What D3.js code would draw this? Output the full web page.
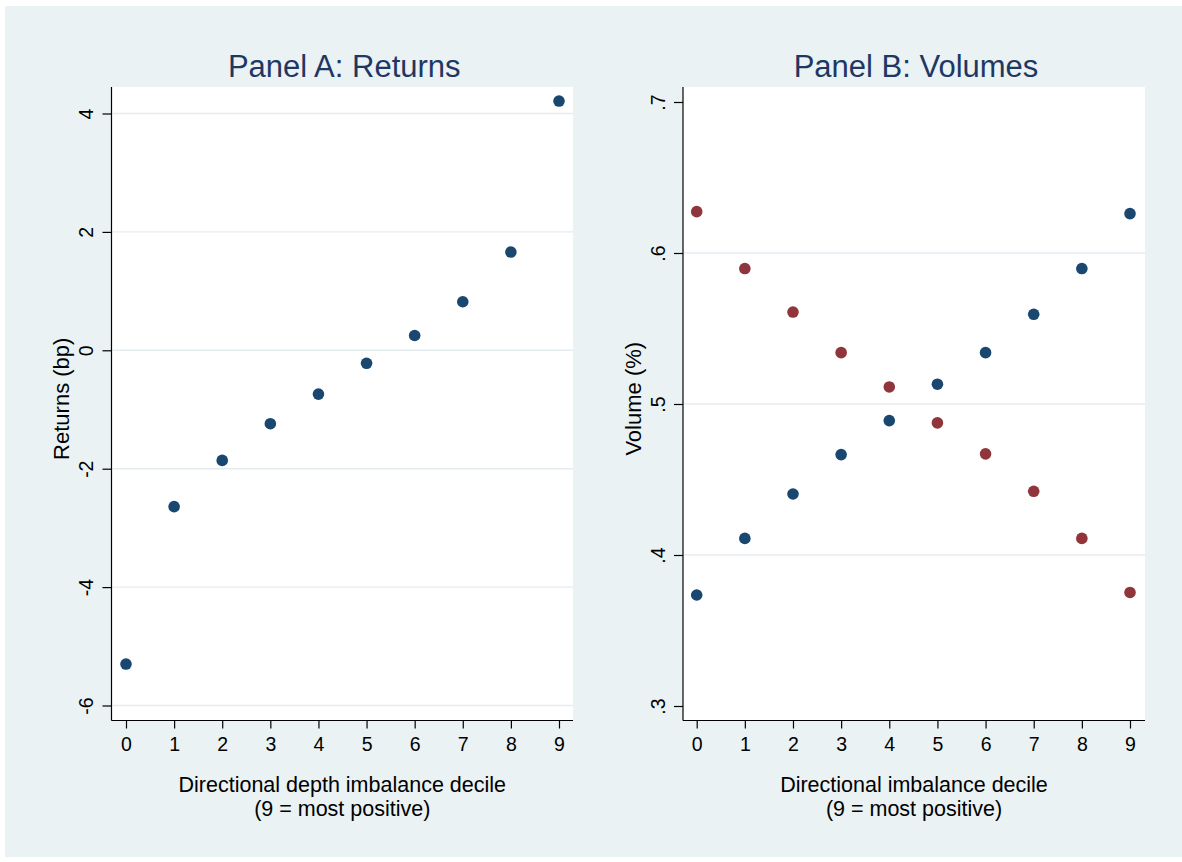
<!DOCTYPE html>
<html>
<head>
<meta charset="utf-8">
<script src="https://cdn.jsdelivr.net/npm/d3@7"></script>
<style>
  html, body { margin: 0; padding: 0; background: #ffffff; }
  svg { display: block; }
  text { font-family: "Liberation Sans", Arial, sans-serif; }
</style>
</head>
<body>
<svg id="chart" width="1182" height="862"></svg>
<script>
// Decile categories shared by both panels
const deciles = [0, 1, 2, 3, 4, 5, 6, 7, 8, 9];

// Panel A: average returns (bp) by directional depth imbalance decile
const returnsBp = [-5.30, -2.64, -1.86, -1.24, -0.74, -0.22, 0.25, 0.82, 1.66, 4.21];

// Panel B: volume shares (%) by directional imbalance decile
const volumeBlue = [0.3735, 0.4110, 0.4404, 0.4665, 0.4890, 0.5131, 0.5340, 0.5594, 0.5897, 0.6261];
const volumeRed  = [0.6274, 0.5897, 0.5609, 0.5340, 0.5113, 0.4875, 0.4670, 0.4422, 0.4110, 0.3752];

// Tick values and labels
const xTicks = deciles;
const returnsTicks = [-6, -4, -2, 0, 2, 4];
const returnsTickLabels = ["-6", "-4", "-2", "0", "2", "4"];
const returnsGrid = [-6, -4, -2, 0, 2, 4];
const volumeTicks = [0.3, 0.4, 0.5, 0.6, 0.7];
const volumeTickLabels = [".3", ".4", ".5", ".6", ".7"];
const volumeGrid = [0.4, 0.5, 0.6];

const NAVY = "#1a476f";
const MAROON = "#90353b";
const BG = "#eaf2f3";
const GRID = "#e4ecf0";
const TITLE = "#1f3763";

const svg = d3.select("#chart");

// Outer background of the graph
svg.append("rect")
  .attr("x", 5).attr("y", 6)
  .attr("width", 1177).attr("height", 851)
  .attr("fill", BG);

function panel(cfg) {
  const g = svg.append("g");
  const { left, right, top, bottom } = cfg.plot;

  // plot region
  g.append("rect")
    .attr("x", left).attr("y", top)
    .attr("width", right - left).attr("height", bottom - top)
    .attr("fill", "#ffffff");

  const x = d3.scaleLinear().domain([0, 9]).range(cfg.xRange);
  const y = d3.scaleLinear().domain(cfg.yDomain).range(cfg.yRange);

  // horizontal grid lines
  g.append("g").selectAll("line")
    .data(cfg.grid)
    .join("line")
    .attr("x1", left + 1).attr("x2", right)
    .attr("y1", d => y(d)).attr("y2", d => y(d))
    .attr("stroke", GRID)
    .attr("stroke-width", 1.4);

  // y axis
  const yAxis = d3.axisLeft(y)
    .tickValues(cfg.yTicks)
    .tickSize(9)
    .tickPadding(9)
    .tickFormat(d => cfg.yLabels[cfg.yTicks.indexOf(d)]);
  const ya = g.append("g")
    .attr("transform", `translate(${left},0)`)
    .call(yAxis);
  ya.select(".domain").remove();
  ya.append("line")
    .attr("x1", 0).attr("x2", 0)
    .attr("y1", top).attr("y2", bottom)
    .attr("stroke", "#000").attr("stroke-width", 1.2);
  ya.selectAll(".tick line").attr("stroke", "#000").attr("stroke-width", 1.2);
  ya.selectAll(".tick text")
    .attr("font-size", 19.5)
    .attr("fill", "#000")
    .attr("x", null).attr("dy", null)
    .attr("text-anchor", "middle")
    .attr("transform", "translate(-18.5,0) rotate(-90)");

  // x axis
  const xAxis = d3.axisBottom(x)
    .tickValues(xTicks)
    .tickSize(8)
    .tickPadding(9)
    .tickFormat(d3.format("d"));
  const xa = g.append("g")
    .attr("transform", `translate(0,${bottom})`)
    .call(xAxis);
  xa.select(".domain").remove();
  xa.append("line")
    .attr("x1", left).attr("x2", right)
    .attr("y1", 0).attr("y2", 0)
    .attr("stroke", "#000").attr("stroke-width", 1.2);
  xa.selectAll(".tick line").attr("stroke", "#000").attr("stroke-width", 1.2);
  xa.selectAll(".tick text").attr("font-size", 19.5).attr("fill", "#000");

  // markers
  cfg.series.forEach(s => {
    g.append("g").selectAll("circle")
      .data(deciles.map((d, i) => ({ d, v: s.values[i] })))
      .join("circle")
      .attr("cx", p => x(p.d))
      .attr("cy", p => y(p.v))
      .attr("r", 5.8)
      .attr("fill", s.color);
  });

  // title
  const cx = (left + right) / 2;
  g.append("text")
    .attr("x", cx + 2).attr("y", 77)
    .attr("text-anchor", "middle")
    .attr("font-size", 31)
    .attr("fill", TITLE)
    .text(cfg.title);

  // x axis title (two lines)
  const xt = g.append("text")
    .attr("x", cx).attr("y", 792)
    .attr("text-anchor", "middle")
    .attr("font-size", 21.5)
    .attr("fill", "#000");
  xt.append("tspan").attr("x", cx).text(cfg.xTitle[0]);
  xt.append("tspan").attr("x", cx).attr("dy", 23.5).text(cfg.xTitle[1]);

  // y axis title
  const cy = (top + bottom) / 2;
  g.append("text")
    .attr("transform", `translate(${cfg.yTitleX},${cy - 5}) rotate(-90)`)
    .attr("text-anchor", "middle")
    .attr("font-size", 22)
    .attr("fill", "#000")
    .text(cfg.yTitle);
}

panel({
  plot: { left: 111.5, right: 573, top: 87, bottom: 720.5 },
  xRange: [126, 559],
  yDomain: [-6, 4],
  yRange: [705.5, 113.5],
  yTicks: returnsTicks,
  yLabels: returnsTickLabels,
  grid: returnsGrid,
  series: [{ values: returnsBp, color: NAVY }],
  title: "Panel A: Returns",
  xTitle: ["Directional depth imbalance decile", "(9 = most positive)"],
  yTitle: "Returns (bp)",
  yTitleX: 69
});

panel({
  plot: { left: 683, right: 1145, top: 87, bottom: 720.5 },
  xRange: [696.7, 1130],
  yDomain: [0.3, 0.7],
  yRange: [706, 102],
  yTicks: volumeTicks,
  yLabels: volumeTickLabels,
  grid: volumeGrid,
  series: [
    { values: volumeBlue, color: NAVY },
    { values: volumeRed, color: MAROON }
  ],
  title: "Panel B: Volumes",
  xTitle: ["Directional imbalance decile", "(9 = most positive)"],
  yTitle: "Volume (%)",
  yTitleX: 641
});
</script>
</body>
</html>
